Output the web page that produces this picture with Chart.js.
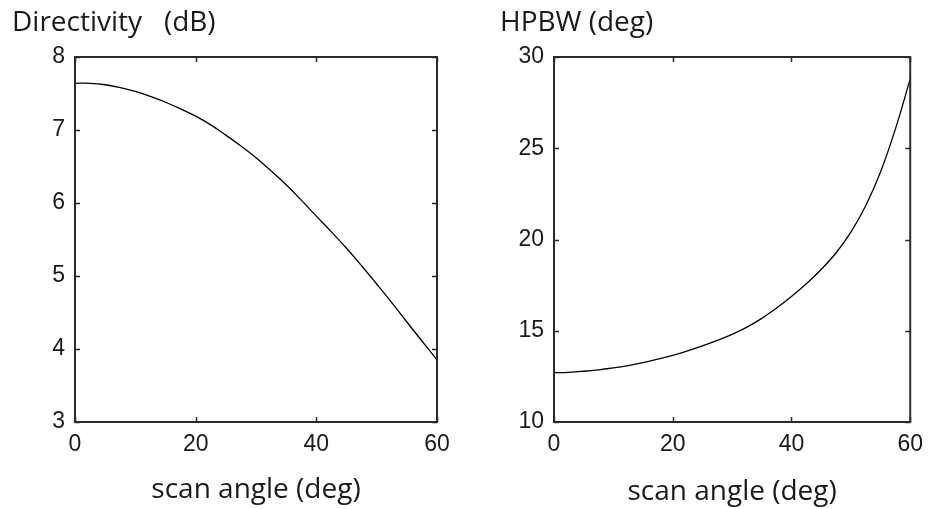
<!DOCTYPE html>
<html><head><meta charset="utf-8">
<script src="https://cdn.jsdelivr.net/npm/chart.js@4/dist/chart.umd.min.js"></script>
<style>
html,body{margin:0;padding:0;background:#fff;}
#wrap{position:relative;width:932px;height:509px;background:#fff;}
.c{position:absolute;top:0;height:509px;width:466px;}
#c1{left:0;}
#c2{left:466px;}
</style></head><body>
<div id="wrap"><div class="c" id="c1"><canvas id="a"></canvas></div><div class="c" id="c2"><canvas id="b"></canvas></div></div>
<script>
const scanAngles = [0,2.5,5,7.5,10,12.5,15,17.5,20,22.5,25,27.5,30,32.5,35,37.5,40,42.5,45,47.5,50,52.5,55,57.5,60];
const directivity = [7.64,7.64,7.62,7.58,7.53,7.46,7.38,7.29,7.19,7.07,6.93,6.78,6.62,6.44,6.25,6.04,5.82,5.605,5.38,5.14,4.89,4.635,4.37,4.11,3.85];
const hpbw = [12.70,12.72,12.78,12.86,12.96,13.09,13.25,13.44,13.65,13.90,14.17,14.47,14.80,15.20,15.68,16.25,16.88,17.57,18.36,19.26,20.40,21.85,23.70,26.05,28.80];
const angleTicks = [0,20,40,60];
const directivityTicks = [3,4,5,6,7,8];
const hpbwTicks = [10,15,20,25,30];
const titles = ['Directivity   (dB)','HPBW (deg)'];
const xLabel = 'scan angle (deg)';

const TXT = '#1a1a1a';
const framePlugin = {
  id:'frame',
  afterDatasetsDraw(chart){
    const {ctx, chartArea:{left,right,top,bottom}, scales:{x,y}} = chart;
    ctx.save();
    ctx.strokeStyle='#2a2a2a';
    ctx.lineWidth=1.5;
    const L=5;
    ctx.beginPath();
    x.ticks.forEach(t=>{const p=Math.round(x.getPixelForValue(t.value))+0.5;ctx.moveTo(p,bottom);ctx.lineTo(p,bottom-L);ctx.moveTo(p,top);ctx.lineTo(p,top+L);});
    y.ticks.forEach(t=>{const p=Math.round(y.getPixelForValue(t.value))+0.5;ctx.moveTo(left,p);ctx.lineTo(left+L,p);ctx.moveTo(right,p);ctx.lineTo(right-L,p);});
    ctx.stroke();
    ctx.lineWidth=2;
    ctx.strokeRect(left,top,right-left,bottom-top);
    ctx.restore();
  }
};

function makeChart(id, values, yTicks, title, padLeft, yWidth, padRight, xTitlePad){
  const data = scanAngles.map((a,i)=>({x:a,y:values[i]}));
  return new Chart(document.getElementById(id), {
    type:'line',
    data:{datasets:[{data, borderColor:'#000', borderWidth:1.3, pointRadius:0, tension:0.4, fill:false}]},
    options:{
      responsive:true, maintainAspectRatio:false, animation:false,
      layout:{padding:{left:padLeft,right:padRight,top:0,bottom:0}},
      plugins:{
        legend:{display:false}, tooltip:{enabled:false},
        title:{display:true, text:title, align:'start', color:TXT,
          font:{family:'Open Sans', size:28, weight:'normal', lineHeight:1.2},
          padding:{top:6.2,bottom:17.2}}
      },
      scales:{
        x:{type:'linear', min:0, max:60,
          afterBuildTicks:s=>{s.ticks=angleTicks.map(v=>({value:v}));},
          afterFit:s=>{s.height=87;},
          grid:{display:false, drawTicks:false}, border:{display:false},
          ticks:{color:TXT, padding:9, maxRotation:0, autoSkip:false, font:{family:'Liberation Sans', size:23}},
          title:{display:true, text:xLabel, color:TXT, font:{family:'Open Sans', size:28, lineHeight:1.2}, padding:{top:0,bottom:xTitlePad}}
        },
        y:{type:'linear', min:yTicks[0], max:yTicks[yTicks.length-1],
          afterBuildTicks:s=>{s.ticks=yTicks.map(v=>({value:v}));},
          afterFit:s=>{s.width=yWidth;},
          grid:{display:false, drawTicks:false}, border:{display:false},
          ticks:{color:TXT, padding:10, autoSkip:false, font:{family:'Liberation Sans', size:23}}
        }
      }
    },
    plugins:[framePlugin]
  });
}
makeChart('a', directivity, directivityTicks, titles[0], 12, 63, 29, 2.2);
makeChart('b', hpbw, hpbwTicks, titles[1], 34, 54, 16, 0.2);
</script>
</body></html>
